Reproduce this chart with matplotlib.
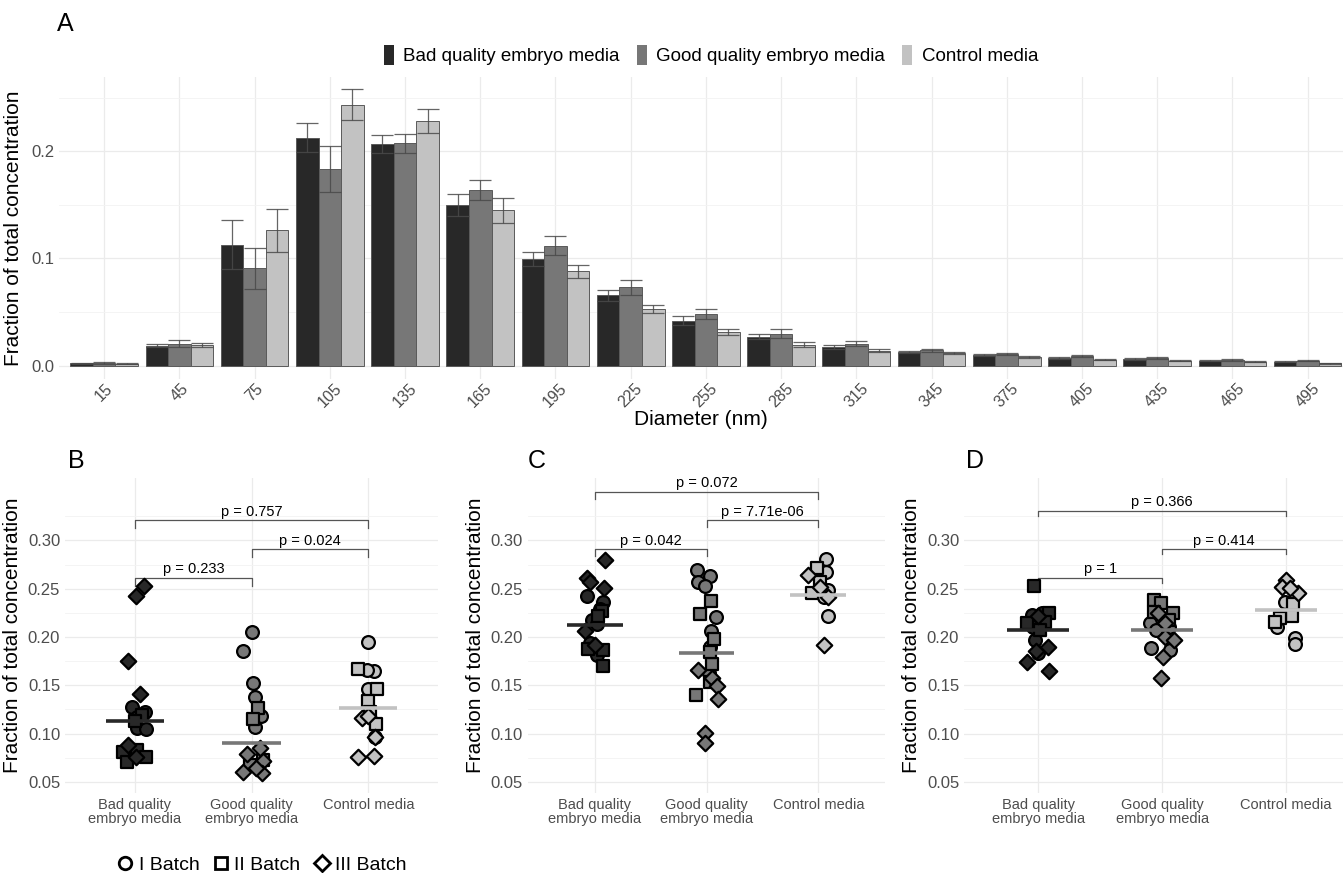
import matplotlib
matplotlib.use("Agg")
import matplotlib.pyplot as plt
import numpy as np
from matplotlib.patches import Patch
from matplotlib.lines import Line2D

plt.rcParams['font.family'] = ['Liberation Sans', 'DejaVu Sans']

# ---- panel A: size distribution (mean, SE) ----
diameters = [15, 45, 75, 105, 135, 165, 195, 225, 255, 285, 315, 345, 375, 405, 435, 465, 495]
bad_mean = [0.0020, 0.0186, 0.1126, 0.2124, 0.2068, 0.1498, 0.0998, 0.0654, 0.0419, 0.0270,
            0.0177, 0.0128, 0.0102, 0.0072, 0.0062, 0.0047, 0.0037]
good_mean = [0.0025, 0.0205, 0.0908, 0.1833, 0.2074, 0.1634, 0.1119, 0.0729, 0.0484, 0.0298,
             0.0205, 0.0143, 0.0108, 0.0087, 0.0068, 0.0050, 0.0044]
ctrl_mean = [0.0018, 0.0190, 0.1262, 0.2434, 0.2279, 0.1448, 0.0881, 0.0524, 0.0310, 0.0195,
             0.0140, 0.0118, 0.0081, 0.0056, 0.0044, 0.0034, 0.0022]
bad_se = [0.0006, 0.0015, 0.0229, 0.0136, 0.0087, 0.0102, 0.0065, 0.0050, 0.0043, 0.0025,
          0.0018, 0.0012, 0.0010, 0.0008, 0.0007, 0.0006, 0.0005]
good_se = [0.0006, 0.0035, 0.0190, 0.0217, 0.0087, 0.0093, 0.0087, 0.0068, 0.0046, 0.0040,
           0.0025, 0.0015, 0.0012, 0.0010, 0.0008, 0.0007, 0.0006]
ctrl_se = [0.0004, 0.0020, 0.0200, 0.0143, 0.0110, 0.0120, 0.0060, 0.0037, 0.0028, 0.0025,
           0.0015, 0.0012, 0.0009, 0.0008, 0.0006, 0.0005, 0.0004]

groups = ['Bad quality embryo media', 'Good quality embryo media', 'Control media']
group_ticks = ['Bad quality\nembryo media', 'Good quality\nembryo media', 'Control media']
colors = ['#282828', '#777777', '#c2c2c2']

# ---- panels B-D: individual samples (batch, value, jitter) ----
B_bad = [('III', .2428, .006), ('III', .2528, .077), ('III', .1755, -.063), ('III', .1407, .043),
         ('III', .0883, -.057), ('III', .0762, .009),
         ('I', .1279, -.029), ('I', .1228, .086), ('I', .1176, .014), ('I', .1055, .014), ('I', .1045, .094),
         ('II', .1193, .057), ('II', .1134, .0), ('II', .0814, -.1), ('II', .0831, .014),
         ('II', .0710, -.071), ('II', .0755, .094)]
B_good = [('I', .2055, .007), ('I', .1855, -.071), ('I', .1528, .009), ('I', .1376, .029),
          ('I', .1186, .077), ('I', .1072, .029),
          ('II', .1269, .051), ('II', .1155, .009), ('II', .0728, .1), ('II', .0676, -.014),
          ('III', .0790, -.037), ('III', .0848, .071), ('III', .0721, .094), ('III', .0607, -.071),
          ('III', .0597, .086), ('III', .0641, .037)]
B_ctrl = [('I', .1952, 0), ('I', .1652, .049), ('I', .1659, -.014), ('I', .1459, 0), ('I', .0969, .057),
          ('II', .1669, -.091), ('II', .1466, .071), ('II', .1341, 0), ('II', .1228, .014), ('II', .1097, .066),
          ('III', .1162, -.057), ('III', .1183, 0), ('III', .0962, .057), ('III', .0755, -.086),
          ('III', .0769, .051)]

C_bad = [('III', .2797, .092), ('III', .2614, -.072), ('III', .2503, .083), ('III', .2062, -.083),
         ('III', .1917, .003), ('III', .2572, -.042),
         ('I', .2428, -.072), ('I', .2366, .077), ('I', .2290, .048), ('I', .2176, -.027), ('I', .2131, .018),
         ('I', .1941, -.042), ('I', .1814, .018),
         ('II', .2269, .063), ('II', .2221, .033), ('II', .1876, -.057), ('II', .1866, .077), ('II', .1700, .072)]
C_good = [('I', .2693, -.086), ('I', .2631, .033), ('I', .2572, -.072), ('I', .2528, -.012),
          ('I', .2210, .086), ('I', .2062, .039), ('I', .1900, .033), ('I', .1624, .018),
          ('II', .2376, .042), ('II', .2238, -.057), ('II', .1979, .063), ('II', .1717, .048),
          ('II', .1848, .027), ('II', .1400, -.092), ('II', .1538, .027),
          ('III', .1659, -.072), ('III', .1572, .048), ('III', .1497, .092), ('III', .1355, .107),
          ('III', .1003, -.012), ('III', .0900, -.012)]
C_ctrl = [('I', .2810, .069), ('I', .2676, .069), ('I', .2486, .089), ('I', .2217, .089), ('I', .2417, .051),
          ('II', .2710, -.015), ('II', .2452, -.06), ('II', .2572, .015),
          ('III', .2641, -.089), ('III', .2521, .015), ('III', .2417, .089), ('III', .1917, .051)]

D_bad = [('II', .2528, -.035), ('II', .2245, .089), ('II', .2159, .054), ('II', .2141, -.094), ('II', .2072, .013),
         ('III', .2221, 0), ('III', .1738, -.094), ('III', .1893, .081), ('III', .1859, -.019), ('III', .1652, .089),
         ('I', .2228, -.054), ('I', .2252, .027), ('I', .1969, -.027), ('I', .1831, 0), ('I', .2107, -.04)]
D_good = [('II', .2383, -.062), ('II', .2348, -.008), ('II', .2245, .086), ('II', .2262, -.062), ('II', .2176, .054),
          ('III', .2245, -.035), ('III', .2141, .019), ('III', .2003, .019), ('III', .1969, .099),
          ('III', .1790, .005), ('III', .1579, -.008),
          ('I', .2141, -.102), ('I', .2072, -.048), ('I', .1890, -.089), ('I', .1866, .065), ('I', .2107, .059)]
D_ctrl = [('III', .2590, 0), ('III', .2521, -.035), ('III', .2459, .099), ('III', .2503, .032),
          ('I', .2359, -.008), ('I', .2107, -.075), ('I', .1986, .073), ('I', .1924, .073),
          ('II', .2341, .059), ('II', .2221, .046), ('II', .2193, -.048), ('II', .2159, -.089)]

B_tests = [(0, 1, 0.2612, 'p = 0.233'), (1, 2, 0.2910, 'p = 0.024'), (0, 2, 0.3210, 'p = 0.757')]
C_tests = [(0, 1, 0.2910, 'p = 0.042'), (1, 2, 0.3210, 'p = 7.71e-06'), (0, 2, 0.3503, 'p = 0.072')]
D_tests = [(0, 1, 0.2612, 'p = 1'), (1, 2, 0.2910, 'p = 0.414'), (0, 2, 0.3305, 'p = 0.366')]

batch_marker = {'I': 'o', 'II': 's', 'III': 'D'}
batch_size = {'I': 85, 'II': 78, 'III': 62}

W, H = 1343, 873
fig = plt.figure(figsize=(W / 100, H / 100), dpi=100)
fig.patch.set_facecolor('white')


def ax_at(l, r, t, b):
    return fig.add_axes([l / W, 1 - b / H, (r - l) / W, (b - t) / H])


def style(ax):
    for s in ax.spines.values():
        s.set_visible(False)
    ax.tick_params(which='both', length=0, colors='#4d4d4d', labelsize=12)
    ax.grid(True, which='major', color='#ebebeb', lw=0.9)
    ax.grid(True, which='minor', axis='y', color='#f3f3f3', lw=0.6)
    ax.set_axisbelow(True)


# ---- A ----
axA = ax_at(59, 1343, 76.7, 379.4)
style(axA)
x = np.arange(len(diameters))
for i, (m, se) in enumerate([(bad_mean, bad_se), (good_mean, good_se), (ctrl_mean, ctrl_se)]):
    pos = x + (i - 1) * 0.3
    axA.bar(pos, m, width=0.3, color=colors[i], edgecolor='#5a5a5a', linewidth=0.7, zorder=2)
    axA.errorbar(pos, m, yerr=se, fmt='none', ecolor='#4a4a4a', elinewidth=0.9,
                 capsize=8, capthick=0.9, alpha=0.85, zorder=3)
axA.set_xticks(x)
axA.set_xticklabels(diameters, rotation=45, fontsize=11.5)
axA.tick_params(axis='x', pad=1)
axA.set_yticks([0.0, 0.1, 0.2])
axA.set_yticks([0.05, 0.15, 0.25], minor=True)
axA.set_xlim(-0.6, 16.47)
axA.set_ylim(-0.0129, 0.2695)
axA.set_ylabel('Fraction of total concentration', fontsize=15, labelpad=6)
axA.set_xlabel('Diameter (nm)', fontsize=15, labelpad=0)
fig.text(57 / W, 1 - 24 / H, 'A', fontsize=18, va='center', ha='left')

handles = [Patch(facecolor=c, edgecolor='none') for c in colors]
fig.legend(handles, groups, loc='center', bbox_to_anchor=(711 / W, 1 - 55 / H), ncol=3,
           frameon=False, fontsize=13.5, handlelength=0.55, handleheight=1.3,
           handletextpad=0.5, columnspacing=0.9)


# ---- B, C, D ----
def dot_panel(ax, data_sets, means, tests, tick, xlim):
    style(ax)
    for g, pts in enumerate(data_sets):
        for b in ['I', 'II', 'III']:
            sel = [p for p in pts if p[0] == b]
            if not sel:
                continue
            vals = [p[1] for p in sel]
            xs = [g + p[2] for p in sel]
            ax.scatter(xs, vals, marker=batch_marker[b], s=batch_size[b], c=colors[g],
                       edgecolors='black', linewidths=1.6, zorder=3)
        ax.plot([g - 0.25, g + 0.25], [means[g], means[g]], color=colors[g], lw=2.6,
                solid_capstyle='butt', zorder=4)
    for x0, x1, yv, lab in tests:
        ax.plot([x0, x0, x1, x1], [yv - tick, yv, yv, yv - tick], color='#555555', lw=0.9, zorder=2)
        ax.text((x0 + x1) / 2, yv + 0.0015, lab, ha='center', va='bottom', fontsize=10.5,
                color='black')
    ax.set_xticks([0, 1, 2])
    ax.set_xticklabels(group_ticks, fontsize=10.5, linespacing=1.0)
    ax.set_yticks([0.05, 0.10, 0.15, 0.20, 0.25, 0.30])
    ax.set_yticklabels(['0.05', '0.10', '0.15', '0.20', '0.25', '0.30'])
    ax.set_yticks(np.arange(0.075, 0.36, 0.05), minor=True)
    ax.set_xlim(*xlim)
    ax.set_ylim(0.0386, 0.3645)
    ax.set_ylabel('Fraction of total concentration', fontsize=15, labelpad=4)


axB = ax_at(65, 438.3, 478, 793)
dot_panel(axB, [B_bad, B_good, B_ctrl], [bad_mean[2], good_mean[2], ctrl_mean[2]], B_tests, 0.0086, (-0.6, 2.6))
axC = ax_at(527.6, 885.4, 478, 793)
dot_panel(axC, [C_bad, C_good, C_ctrl], [bad_mean[3], good_mean[3], ctrl_mean[3]], C_tests, 0.0075, (-0.6, 2.6))
axD = ax_at(964, 1343, 478, 793)
dot_panel(axD, [D_bad, D_good, D_ctrl], [bad_mean[4], good_mean[4], ctrl_mean[4]], D_tests, 0.0052, (-0.6, 2.46))

fig.text(68 / W, 1 - 461 / H, 'B', fontsize=18, va='center', ha='left')
fig.text(528 / W, 1 - 461 / H, 'C', fontsize=18, va='center', ha='left')
fig.text(966 / W, 1 - 461 / H, 'D', fontsize=18, va='center', ha='left')

bh = [Line2D([], [], marker=batch_marker[b], ls='none', markerfacecolor='white',
             markeredgecolor='black', markeredgewidth=2, markersize=9 if b != 'III' else 8)
      for b in ['I', 'II', 'III']]
fig.legend(bh, ['I Batch', 'II Batch', 'III Batch'], loc='center', bbox_to_anchor=(262 / W, 1 - 865 / H),
           ncol=3, frameon=False, fontsize=14, handlelength=0.8, handletextpad=0.3, columnspacing=0.7)

fig.savefig('out.png', dpi=100, facecolor='white')
